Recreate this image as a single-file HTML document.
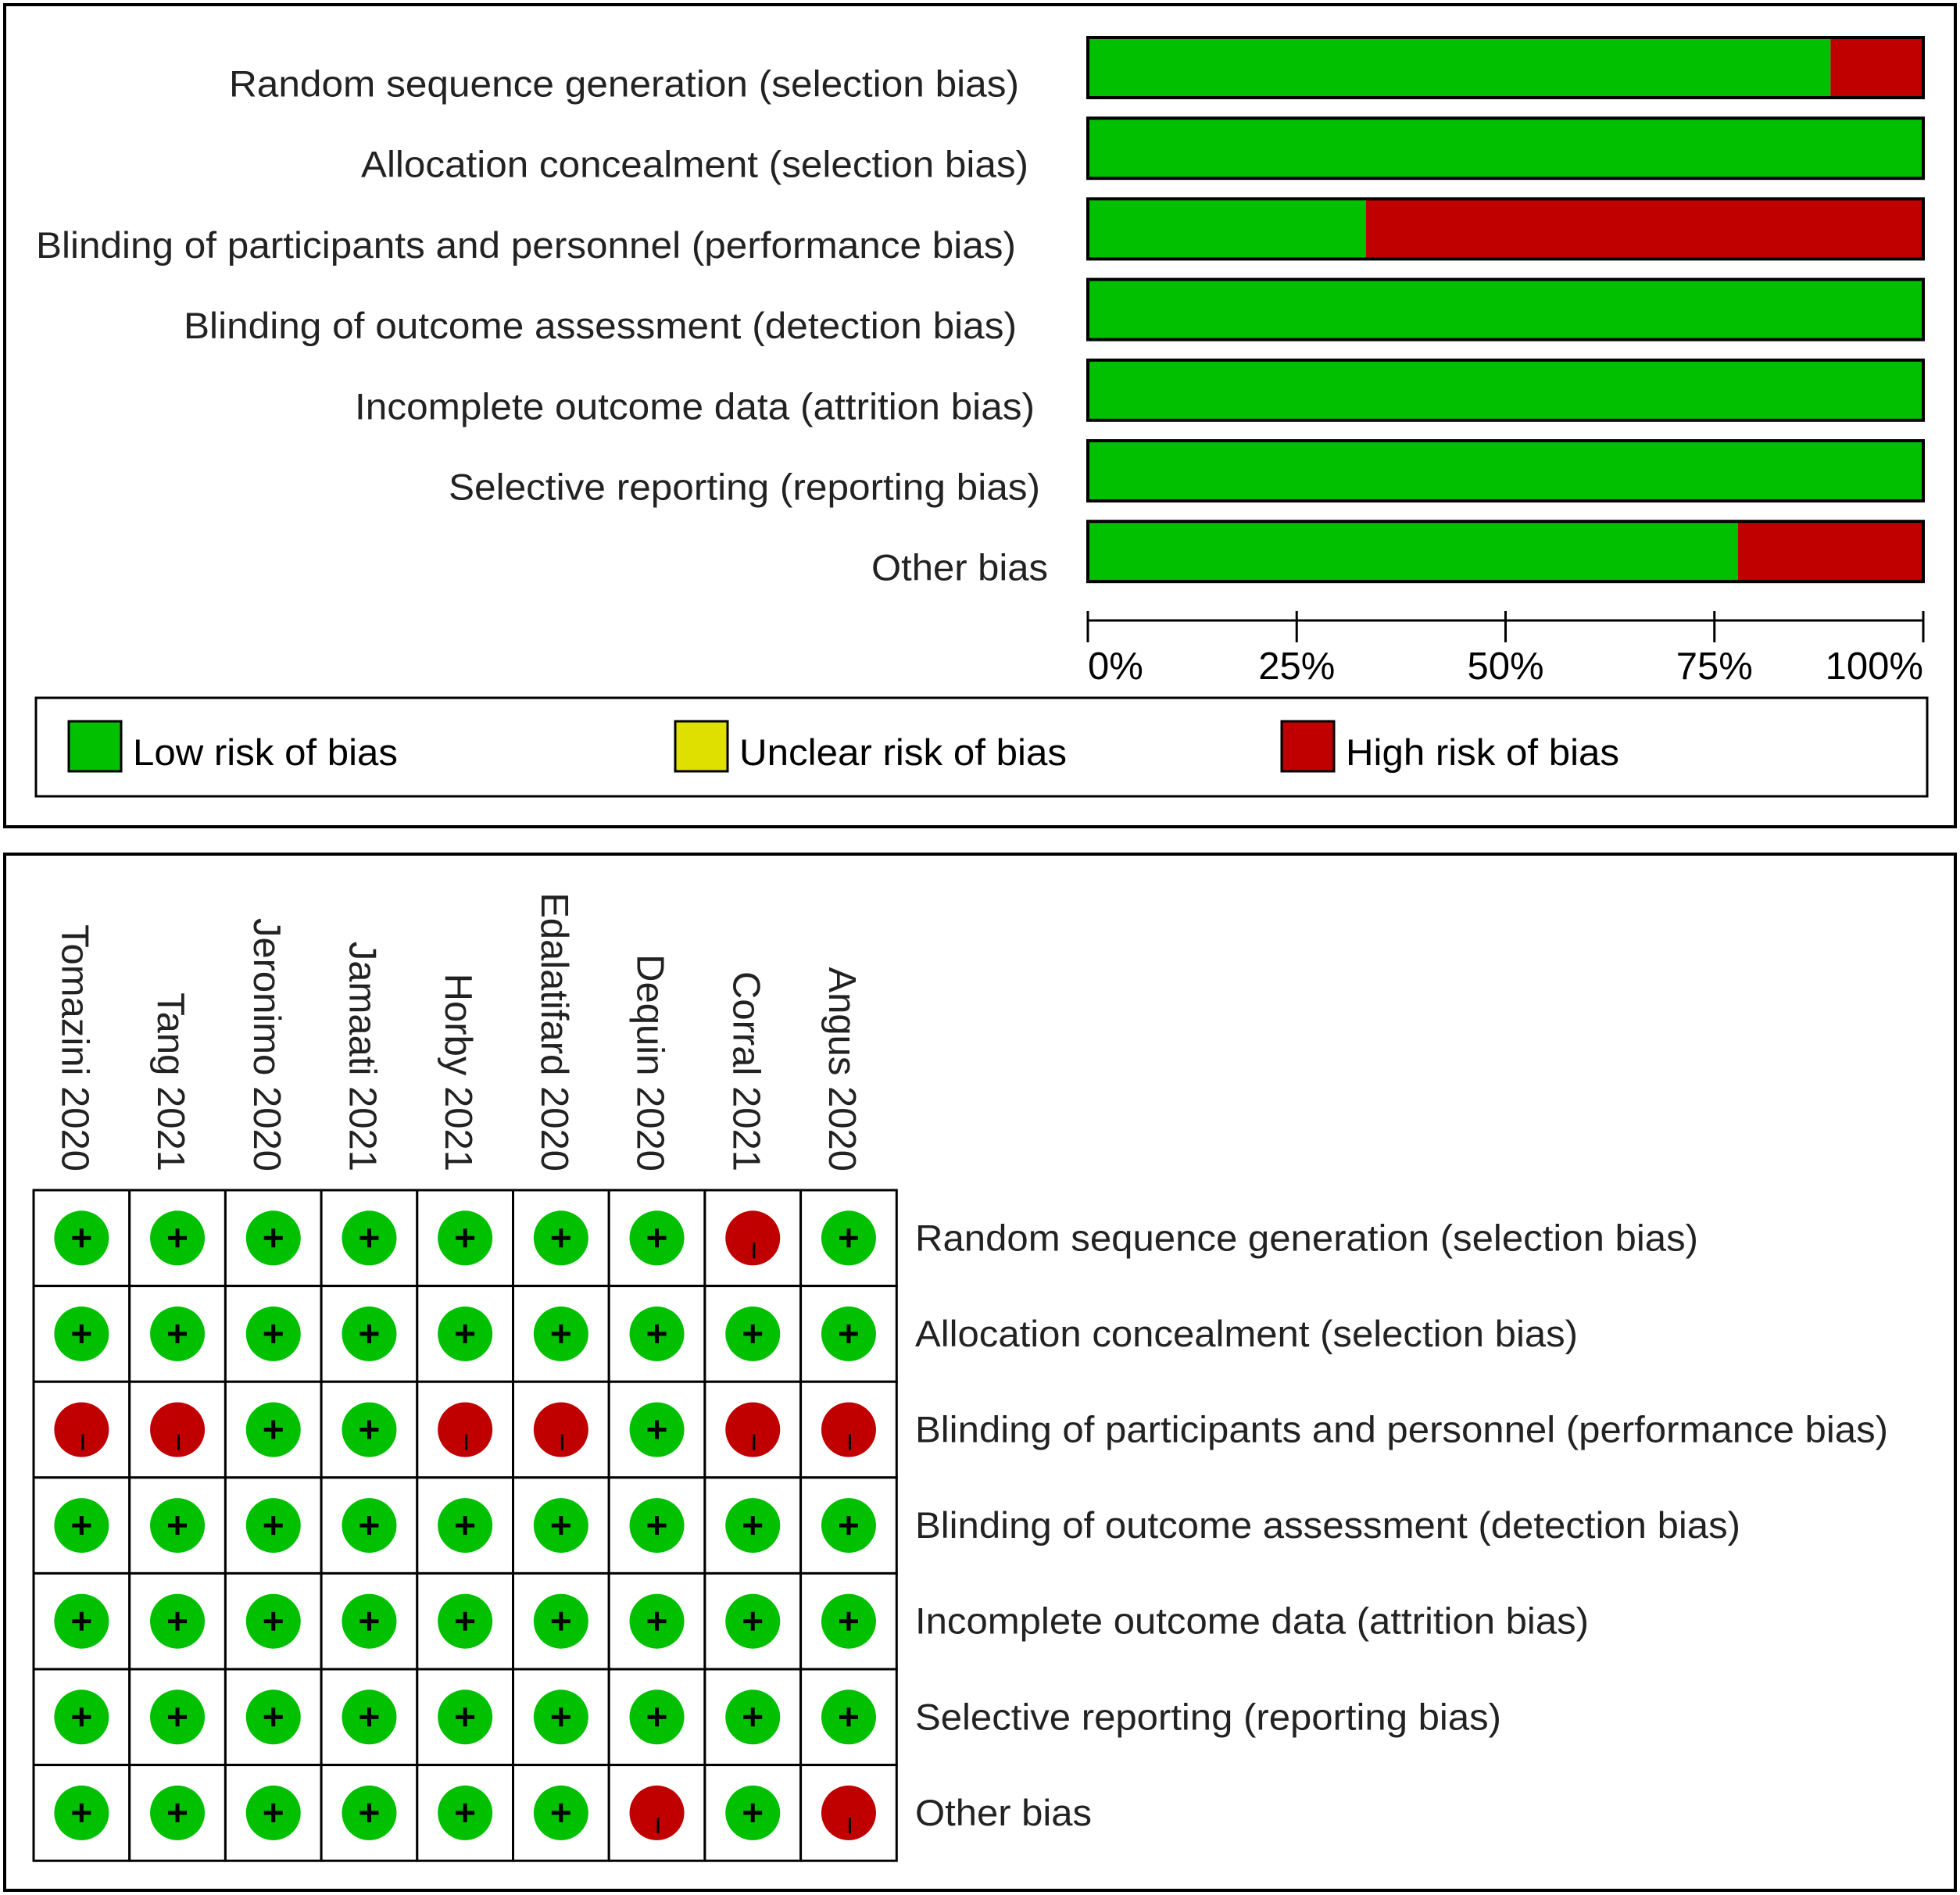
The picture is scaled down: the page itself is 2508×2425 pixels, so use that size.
<!DOCTYPE html>
<html><head><meta charset="utf-8"><style>
html,body{margin:0;padding:0;background:#fff;}
svg{display:block;font-family:"Liberation Sans",Arial,sans-serif;}
</style></head><body>
<svg id="fig" width="2508" height="2425" viewBox="0 0 2508 2425" xmlns="http://www.w3.org/2000/svg">
<rect x="6" y="6" width="2496" height="1052" fill="#fff" stroke="#000" stroke-width="4"/>
<rect x="6" y="1093" width="2496" height="1326" fill="#fff" stroke="#000" stroke-width="4"/>
<g id="bars"></g>
<g id="axis"></g>
<g>
<rect x="46" y="893" width="2420" height="126" fill="#fff" stroke="#000" stroke-width="3"/>
<rect x="88" y="923" width="67" height="64" fill="#00c000" stroke="#000" stroke-width="3"/>
<text x="170" y="979" font-size="47" textLength="339" lengthAdjust="spacingAndGlyphs">Low risk of bias</text>
<rect x="864" y="923" width="67" height="64" fill="#e0e000" stroke="#000" stroke-width="3"/>
<text x="946" y="979" font-size="47" textLength="419" lengthAdjust="spacingAndGlyphs">Unclear risk of bias</text>
<rect x="1640" y="923" width="67" height="64" fill="#c00000" stroke="#000" stroke-width="3"/>
<text x="1722" y="979" font-size="47" textLength="350" lengthAdjust="spacingAndGlyphs">High risk of bias</text>
</g>
<g id="grid"></g>
</svg>
<script>
const domains = ["Random sequence generation (selection bias)","Allocation concealment (selection bias)","Blinding of participants and personnel (performance bias)","Blinding of outcome assessment (detection bias)","Incomplete outcome data (attrition bias)","Selective reporting (reporting bias)","Other bias"];
const lowPct = [88.9,100,33.3,100,100,100,77.8];
const unclearPct = [0,0,0,0,0,0,0];
const highPct = [11.1,0,66.7,0,0,0,22.2];
const tickValues = [0,25,50,75,100];
const tickLabels = ["0%","25%","50%","75%","100%"];
const studies = ["Tomazini 2020","Tang 2021","Jeronimo 2020","Jamaati 2021","Horby 2021","Edalatifard 2020","Dequin 2020","Corral 2021","Angus 2020"];
const judgments = [
 ["+","+","+","+","+","+","+","-","+"],
 ["+","+","+","+","+","+","+","+","+"],
 ["-","-","+","+","-","-","+","-","-"],
 ["+","+","+","+","+","+","+","+","+"],
 ["+","+","+","+","+","+","+","+","+"],
 ["+","+","+","+","+","+","+","+","+"],
 ["+","+","+","+","+","+","-","+","-"]
];
// layout
const labelX = [293,462,46,235,454,574,1115];
const labelW = [1011,854,1254,1066,870,757,226];
const label2W = [1002,848,1245,1056,862,750,226];
const NS="http://www.w3.org/2000/svg";
function mk(tag,attrs,parent){const e=document.createElementNS(NS,tag);for(const k in attrs)e.setAttribute(k,attrs[k]);parent.appendChild(e);return e;}
const X0=1392,X1=2461;
const xScale=v=>X0+(X1-X0)*v/100;
const barTop=i=>48+i*103.2, BH=77;
const bars=document.getElementById('bars');
domains.forEach((d,i)=>{
  const y=barTop(i);
  const t=mk('text',{x:labelX[i],y:y+BH/2+37,'font-size':47,textLength:labelW[i],lengthAdjust:'spacingAndGlyphs',fill:'#222'},bars);
  t.textContent=d;
  
  
  let acc=0;
  [[lowPct[i],'#00c000','bar-low'],[unclearPct[i],'#e0e000','bar-unclear'],[highPct[i],'#c00000','bar-high']].forEach(([v,c,n])=>{
    if(v<=0)return;
    const r=mk('rect',{x:xScale(acc),y:y,width:xScale(acc+v)-xScale(acc),height:BH,fill:c},bars);
    
    
    acc+=v;
  });
  const o=mk('rect',{x:X0,y:y,width:X1-X0,height:BH,fill:'none',stroke:'#000','stroke-width':4},bars);
  
  
});
const ax=document.getElementById('axis');
mk('line',{x1:X0,x2:X1,y1:794,y2:794,stroke:'#000','stroke-width':3},ax);
tickValues.forEach((v,i)=>{
  const x=xScale(v);
  const l=mk('line',{x1:x,x2:x,y1:782,y2:822,stroke:'#000','stroke-width':3},ax);
  
  
  const anchor=i==0?'start':(i==tickValues.length-1?'end':'middle');
  const t=mk('text',{x:x,y:869,'font-size':49,'text-anchor':anchor},ax);
  t.textContent=tickLabels[i];
  
  
});
// grid
const g=document.getElementById('grid');
const GX=43,GY=1523,CW=122.7,CH=122.6;
studies.forEach((s,j)=>{
  const cx=GX+CW*(j+0.5);
  const t=mk('text',{x:0,y:0,'font-size':49,'text-anchor':'end',fill:'#222',transform:`translate(${cx-25},1499) rotate(90)`},g);
  t.textContent=s;
  
  
});
judgments.forEach((row,i)=>{
  const cy=GY+CH*(i+0.5);
  row.forEach((jd,j)=>{
    const cx=GX+CW*(j+0.5);
    const r=mk('rect',{x:GX+CW*j,y:GY+CH*i,width:CW,height:CH,fill:'#fff',stroke:'#000','stroke-width':3},g);
    
    
    const c=mk('circle',{cx:cx,cy:cy,r:35,fill:jd=='+'?'#00c000':'#c00000'},g);
    
    
    if(jd=='+'){
      mk('rect',{x:cx-12,y:cy-2.5,width:24,height:5,fill:'#000'},g);
      mk('rect',{x:cx-2.5,y:cy-12,width:5,height:24,fill:'#000'},g);
    }else{
      mk('rect',{x:cx,y:cy+6,width:3,height:20,fill:'#000'},g);
    }
  });
  const t=mk('text',{x:1171,y:cy+16,'font-size':47,textLength:label2W[i],lengthAdjust:'spacingAndGlyphs',fill:'#222'},g);
  t.textContent=domains[i];
  
  
});
</script>
</body></html>
